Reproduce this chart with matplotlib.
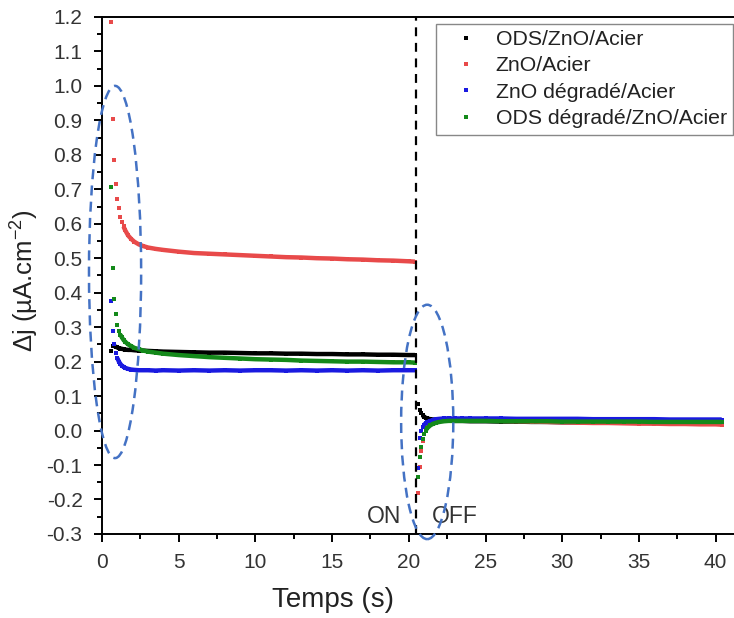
import matplotlib
matplotlib.use('Agg')
import matplotlib.pyplot as plt
from matplotlib.patches import Ellipse
from matplotlib.ticker import MultipleLocator, FormatStrFormatter

plt.rcParams['font.family'] = ['Liberation Sans', 'DejaVu Sans']
plt.rcParams['mathtext.fontset'] = 'custom'
plt.rcParams['mathtext.rm'] = 'Liberation Sans'
plt.rcParams['mathtext.default'] = 'regular'

## DATA
seriesNames = ['ODS/ZnO/Acier', 'ZnO/Acier', 'ZnO dégradé/Acier', 'ODS dégradé/ZnO/Acier']
seriesColors = ['#000000', '#e84a4a', '#1a1ae0', '#14891a']

# light ON (s)
timeOn = [0.6, 0.7, 0.8, 0.9, 1.0, 1.1, 1.2, 1.3, 1.4, 1.5, 1.7, 1.9, 2.1, 2.4, 2.7,
          3.0, 3.5, 4.0, 5, 6, 7, 8, 9, 10, 11, 12, 13, 14, 15, 16, 17, 18, 19, 20, 20.4]
blackOn = [0.230, 0.245, 0.245, 0.243, 0.241, 0.239, 0.238, 0.237, 0.236, 0.235, 0.234, 0.234, 0.233, 0.232, 0.232,
           0.231, 0.230, 0.229, 0.228, 0.227, 0.226, 0.226, 0.225, 0.224, 0.224, 0.223, 0.223, 0.222, 0.222, 0.221, 0.221, 0.220, 0.220, 0.219, 0.219]
redOn = [1.185, 0.903, 0.784, 0.716, 0.672, 0.645, 0.621, 0.605, 0.592, 0.582, 0.566, 0.556, 0.548, 0.540, 0.535,
         0.531, 0.527, 0.524, 0.519, 0.515, 0.513, 0.511, 0.509, 0.507, 0.505, 0.503, 0.502, 0.500, 0.499, 0.497, 0.496, 0.494, 0.493, 0.491, 0.490]
blueOn = [0.376, 0.290, 0.250, 0.225, 0.210, 0.200, 0.193, 0.188, 0.185, 0.182, 0.179, 0.177, 0.176, 0.175, 0.175,
          0.175, 0.174, 0.175, 0.174, 0.175, 0.174, 0.175, 0.174, 0.175, 0.175, 0.174, 0.175, 0.174, 0.175, 0.174, 0.175, 0.174, 0.175, 0.175, 0.175]
greenOn = [0.708, 0.471, 0.382, 0.337, 0.305, 0.290, 0.278, 0.270, 0.263, 0.258, 0.250, 0.245, 0.240, 0.236, 0.232,
           0.229, 0.226, 0.223, 0.219, 0.216, 0.213, 0.211, 0.209, 0.207, 0.206, 0.205, 0.203, 0.202, 0.201, 0.200, 0.200, 0.199, 0.198, 0.198, 0.197]

# light OFF (s)
timeOff = [20.6, 20.7, 20.8, 20.9, 21.0, 21.1, 21.2, 21.4, 21.6, 21.8, 22.0, 22.3, 22.6, 23.0, 23.5,
           24, 25, 26, 27, 28, 29, 30, 31, 32, 33, 34, 35, 36, 37, 38, 39, 40, 40.4]
blackOff = [0.078, 0.060, 0.050, 0.044, 0.040, 0.037, 0.035, 0.033, 0.032, 0.031, 0.030, 0.029, 0.029, 0.028, 0.028,
            0.027, 0.027, 0.026, 0.026, 0.025, 0.025, 0.024, 0.024, 0.024, 0.023, 0.023, 0.023, 0.022, 0.022, 0.022, 0.021, 0.021, 0.021]
redOff = [-0.182, -0.105, -0.060, -0.030, -0.010, 0.000, 0.010, 0.020, 0.026, 0.030, 0.032, 0.034, 0.034, 0.033, 0.032,
          0.031, 0.029, 0.028, 0.027, 0.026, 0.025, 0.024, 0.023, 0.022, 0.022, 0.021, 0.020, 0.020, 0.019, 0.019, 0.018, 0.018, 0.017]
blueOff = [-0.110, -0.022, 0.000, 0.010, 0.017, 0.021, 0.024, 0.028, 0.031, 0.033, 0.034, 0.035, 0.035, 0.035, 0.035,
           0.035, 0.035, 0.035, 0.034, 0.034, 0.034, 0.034, 0.034, 0.033, 0.033, 0.033, 0.033, 0.033, 0.032, 0.032, 0.032, 0.032, 0.032]
greenOff = [-0.134, -0.076, -0.047, -0.025, -0.010, 0.000, 0.007, 0.015, 0.020, 0.023, 0.025, 0.027, 0.028, 0.028, 0.028,
            0.028, 0.028, 0.027, 0.027, 0.027, 0.027, 0.026, 0.026, 0.026, 0.026, 0.026, 0.026, 0.025, 0.025, 0.025, 0.025, 0.025, 0.025]

switchTime = 20.45

## PLOT
fig = plt.figure(figsize=(7.34, 6.18), dpi=100)
ax = fig.add_axes([0.139, 0.136, 0.861, 0.8366])

onData = [blackOn, redOn, blueOn, greenOn]
offData = [blackOff, redOff, blueOff, greenOff]
# first points are separated dots, the rest is a dense band
sparseOn = [2, 8, 4, 6]
sparseOff = [3, 6, 4, 5]

for i in range(len(seriesNames)):
    c = seriesColors[i]
    ax.plot(timeOn[sparseOn[i]:], onData[i][sparseOn[i]:], '-', color=c, lw=3.2, solid_capstyle='butt')
    ax.plot(timeOff[sparseOff[i]:], offData[i][sparseOff[i]:], '-', color=c, lw=3.2, solid_capstyle='butt')
    ax.plot(timeOn, onData[i], 's', color=c, ms=2.8, mew=0)
    ax.plot(timeOff, offData[i], 's', color=c, ms=2.8, mew=0, label=seriesNames[i])

ax.axvline(switchTime, color='black', lw=1.6, linestyle=(0, (4, 3)))

ellipseStyle = dict(fill=False, edgecolor='#4472c4', lw=1.8, linestyle=(0, (4, 2.5)), clip_on=False, zorder=5)
ax.add_patch(Ellipse((0.85, 0.46), 3.4, 1.08, **ellipseStyle))
ax.add_patch(Ellipse((21.2, 0.025), 3.4, 0.68, **ellipseStyle))

ax.text(18.4, -0.25, 'ON', fontsize=16.5, color='#333333', ha='center', va='center')
ax.text(23.0, -0.25, 'OFF', fontsize=16.5, color='#333333', ha='center', va='center')

ax.set_xlim(0, 41.2)
ax.set_ylim(-0.3, 1.2)
ax.xaxis.set_major_locator(MultipleLocator(5))
ax.xaxis.set_minor_locator(MultipleLocator(2.5))
ax.yaxis.set_major_locator(MultipleLocator(0.1))
ax.yaxis.set_minor_locator(MultipleLocator(0.05))
ax.yaxis.set_major_formatter(FormatStrFormatter('%.1f'))
ax.tick_params(which='major', direction='out', length=6, width=1.4, labelsize=15, labelcolor='#333333', pad=8)
ax.tick_params(which='minor', direction='out', length=3.5, width=1.4)
ax.spines['right'].set_visible(False)
for s in ['left', 'bottom', 'top']:
    ax.spines[s].set_linewidth(1.4)

ax.set_xlabel('Temps (s)', fontsize=20, color='#222222')
ax.set_ylabel('Δj (µA.cm$^{-2}$)', fontsize=18.5, color='#222222')
ax.xaxis.set_label_coords(0.365, -0.102)
ax.yaxis.set_label_coords(-0.097, 0.49)

leg = ax.legend(loc='upper right', bbox_to_anchor=(0.999, 0.987), borderaxespad=0, fontsize=15.3,
                markerscale=1.0, handlelength=2.2, handletextpad=0.3, borderpad=0.3,
                labelspacing=0.35, fancybox=False, framealpha=1)
leg.get_frame().set_edgecolor('#888888')
leg.get_frame().set_linewidth(1.0)
for t in leg.get_texts():
    t.set_color('#222222')

fig.savefig('out.png', dpi=100)
